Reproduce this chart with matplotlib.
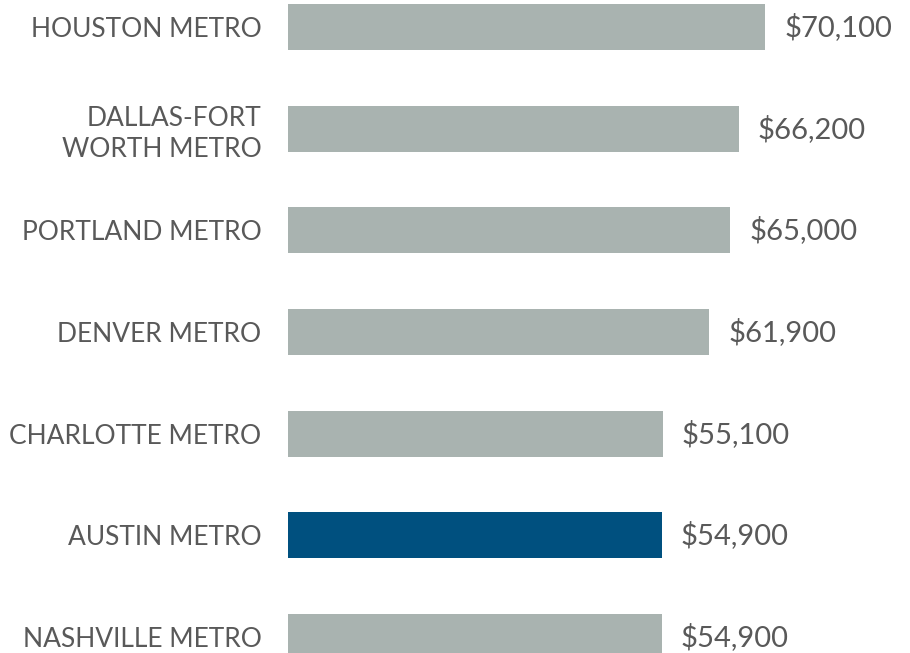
import matplotlib
matplotlib.use("Agg")
import matplotlib.pyplot as plt

categories = ["HOUSTON METRO", "DALLAS-FORT\nWORTH METRO", "PORTLAND METRO",
              "DENVER METRO", "CHARLOTTE METRO", "AUSTIN METRO", "NASHVILLE METRO"]
values = [70100, 66200, 65000, 61900, 55100, 54900, 54900]
value_labels = ["$70,100", "$66,200", "$65,000", "$61,900", "$55,100", "$54,900", "$54,900"]
highlight = "AUSTIN METRO"

GRAY = "#A9B3B0"
BLUE = "#00507F"
TEXT = "#595959"

plt.rcParams['font.family'] = ['Lato', 'DejaVu Sans']

fig = plt.figure(figsize=(9.10, 6.53), dpi=100)
ax = fig.add_axes([288/910, 0, 622/910, 1])

ypos = list(range(len(categories)))
colors = [BLUE if c == highlight else GRAY for c in categories]
ax.barh(ypos, values, height=0.45, color=colors)

ax.set_xlim(0, 91400)
ax.set_ylim(6.157, -0.2656)

for y, v, lab in zip(ypos, values, value_labels):
    ax.annotate(lab, (v, y), xytext=(19, 0), textcoords="offset pixels",
                va="center", ha="left", fontsize=21, color=TEXT)

ax.set_yticks(ypos)
ax.set_yticklabels(categories, fontsize=19, color=TEXT, linespacing=1.3)
ax.tick_params(axis='y', length=0, pad=19)
ax.set_xticks([])
for s in ax.spines.values():
    s.set_visible(False)

fig.savefig("out.png", dpi=100)
